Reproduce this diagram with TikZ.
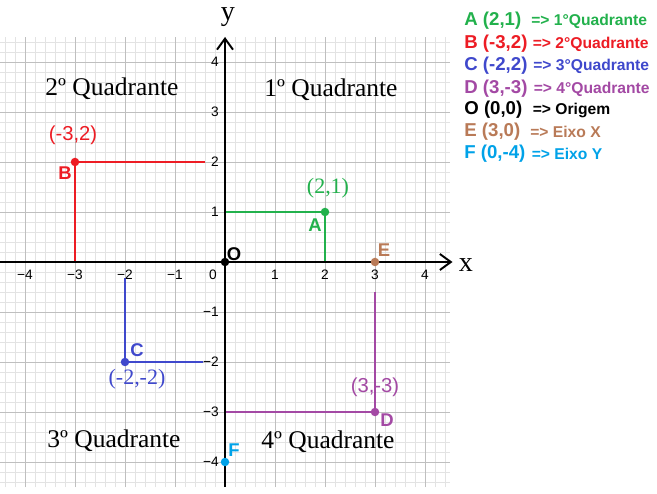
\documentclass[tikz,border=0pt]{standalone}
\usepackage{fontspec}
\setmainfont{Liberation Serif}
\setsansfont{Liberation Sans}
\usetikzlibrary{arrows.meta}
\definecolor{ptA}{RGB}{34,177,76}
\definecolor{ptB}{RGB}{237,28,36}
\definecolor{ptC}{RGB}{63,72,204}
\definecolor{ptD}{RGB}{163,73,164}
\definecolor{ptE}{RGB}{185,122,87}
\definecolor{ptF}{RGB}{0,162,232}
\tikzset{
	dot/.style={circle, fill, inner sep=0pt, minimum size=1.7mm},
	ptname/.style={font=\sffamily\bfseries\fontsize{10.5}{12}\selectfont, inner sep=0pt},
	ptcoord/.style={font=\fontsize{12.5}{14}\selectfont, inner sep=0pt},
	ptcoordsf/.style={font=\sffamily\fontsize{11.5}{14}\selectfont, inner sep=0pt},
	quadlabel/.style={font=\fontsize{14.5}{16}\selectfont, inner sep=0pt},
	legkey/.style={anchor=west, font=\sffamily\bfseries\fontsize{10.6}{12}\selectfont, inner sep=0pt},
	legtext/.style={anchor=west, font=\sffamily\bfseries\fontsize{8.9}{11}\selectfont, inner sep=0pt},
	ticklabel/.style={font=\sffamily\fontsize{7.8}{9}\selectfont, inner sep=0pt},
	projline/.style={line width=0.7pt},
	axis/.style={line width=0.9pt, -{Straight Barb[length=2.2mm,width=3.2mm,line width=1.1pt]}}
}
\begin{document}
\begin{tikzpicture}[x=1cm, y=1cm]
	\useasboundingbox[fill=white] (-4.5,-4.64) rectangle (8.64,5.24);
	
	%% -- grid
	\draw[gray!22, line width=0.3pt, step=0.2] (-4.5,-4.5) grid (4.5,4.5);
	\draw[gray!50, line width=0.5pt, step=1] (-4.5,-4.5) grid (4.5,4.5);
	
	%% -- projections to the axes
	\coordinate (Ay) at (0,1);
	\coordinate (Ax) at (2,0);
	\coordinate (By) at (-0.4,2);
	\coordinate (Bx) at (-3,0);
	\coordinate (Cx) at (-2,-0.32);
	\coordinate (Cy) at (-0.44,-2);
	\coordinate (Dy) at (0,-3);
	\coordinate (Dx) at (3,-0.6);
	\coordinate (A) at (2,1);
	\coordinate (B) at (-3,2);
	\coordinate (C) at (-2,-2);
	\coordinate (D) at (3,-3);
	\draw[projline, ptA] (Ay) -- (A) -- (Ax);
	\draw[projline, ptB] (By) -- (B) -- (Bx);
	\draw[projline, ptC] (Cx) -- (C) -- (Cy);
	\draw[projline, ptD] (Dy) -- (D) -- (Dx);
	
	%% -- axes
	\coordinate (xmin) at (-4.5,0);
	\coordinate (xmax) at (4.55,0);
	\coordinate (ymin) at (0,-4.5);
	\coordinate (ymax) at (0,4.5);
	\draw[axis] (xmin) -- (xmax);
	\draw[axis] (ymin) -- (ymax);
	\node[font=\fontsize{16}{18}\selectfont, inner sep=0pt] (xlab) at (4.82,-0.06) {x};
	\node[font=\fontsize{16}{18}\selectfont, inner sep=0pt] (ylab) at (0.06,4.9) {y};
	
	%% -- tick labels
	\foreach \i in {1,...,4} {
		\node[ticklabel] (xp\i) at (\i,-0.26) {\i};
		\node[ticklabel] (xn\i) at (-\i,-0.26) {−\i};
		\node[ticklabel, anchor=east] (yp\i) at (-0.12,\i) {\i};
		\node[ticklabel, anchor=east] (yn\i) at (-0.12,-\i) {−\i};
	}
	\node[ticklabel] (zero) at (-0.24,-0.26) {0};
	
	%% -- points
	\node[dot, ptA] (pA) at (A) {};
	\node[dot, ptB] (pB) at (B) {};
	\node[dot, ptC] (pC) at (C) {};
	\node[dot, ptD] (pD) at (D) {};
	\node[dot, black] (pO) at (0,0) {};
	\node[dot, ptE] (pE) at (3,0) {};
	\node[dot, ptF] (pF) at (0,-4) {};
	
	\node[ptname, ptA] (nA) at (1.8,0.74) {A};
	\node[ptname, ptB] (nB) at (-3.2,1.78) {B};
	\node[ptname, ptC] (nC) at (-1.76,-1.76) {C};
	\node[ptname, ptD] (nD) at (3.24,-3.16) {D};
	\node[ptname, black] (nO) at (0.18,0.16) {O};
	\node[ptname, ptE] (nE) at (3.18,0.24) {E};
	\node[ptname, ptF] (nF) at (0.18,-3.76) {F};
	
	\node[ptcoord, ptA] (cA) at (2.06,1.48) {(2,1)};
	\node[ptcoordsf, ptB] (cB) at (-3.04,2.54) {(-3,2)};
	\node[ptcoord, ptC] (cC) at (-1.76,-2.34) {(-2,-2)};
	\node[ptcoordsf, ptD] (cD) at (3.0,-2.5) {(3,-3)};
	
	%% -- quadrant names
	\node[quadlabel] (q2) at (-2.26,3.46) {2º Quadrante};
	\node[quadlabel] (q1) at (2.12,3.44) {1º Quadrante};
	\node[quadlabel] (q3) at (-2.22,-3.58) {3º Quadrante};
	\node[quadlabel] (q4) at (2.06,-3.6) {4º Quadrante};
	
	%% -- legend
	\node[legkey, ptA] (legA) at (4.78,4.82) {A (2,1)};
	\node[legtext, ptA] (legAtxt) at (6.12,4.82) {=> 1°Quadrante};
	\node[legkey, ptB] (legB) at (4.78,4.36) {B (-3,2)};
	\node[legtext, ptB] (legBtxt) at (6.15,4.36) {=> 2°Quadrante};
	\node[legkey, ptC] (legC) at (4.78,3.92) {C (-2,2)};
	\node[legtext, ptC] (legCtxt) at (6.16,3.92) {=> 3°Quadrante};
	\node[legkey, ptD] (legD) at (4.78,3.46) {D (3,-3)};
	\node[legtext, ptD] (legDtxt) at (6.17,3.46) {=> 4°Quadrante};
	\node[legkey, black] (legO) at (4.78,3.04) {O (0,0)};
	\node[legtext, black] (legOtxt) at (6.15,3.04) {=> Origem};
	\node[legkey, ptE] (legE) at (4.78,2.60) {E (3,0)};
	\node[legtext, ptE] (legEtxt) at (6.10,2.60) {=> Eixo X};
	\node[legkey, ptF] (legF) at (4.78,2.16) {F (0,-4)};
	\node[legtext, ptF] (legFtxt) at (6.13,2.16) {=> Eixo Y};
\end{tikzpicture}
\end{document}
